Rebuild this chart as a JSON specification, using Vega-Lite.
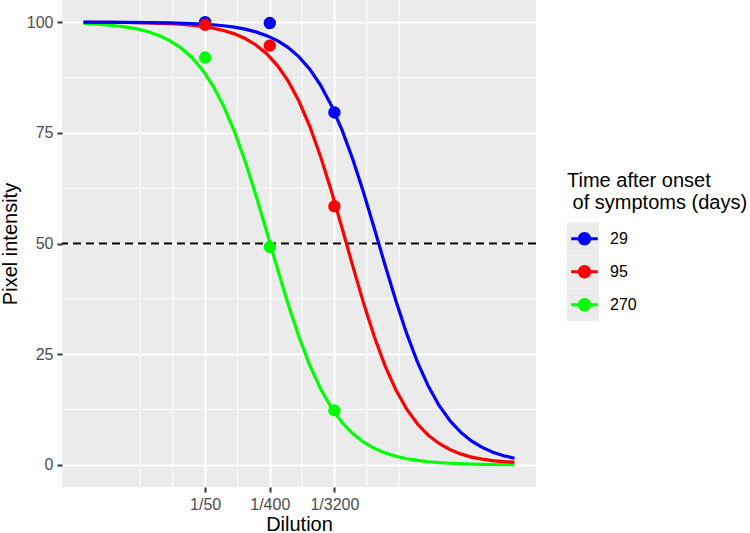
{
  "$schema": "https://vega.github.io/schema/vega-lite/v6.json",
  "width": 474,
  "height": 487,
  "autosize": {"type": "none"},
  "padding": {"left": 62, "top": 0, "right": 214, "bottom": 46},
  "config": {
    "font": "Liberation Sans",
    "view": {"fill": "#EBEBEB", "stroke": null},
    "axis": {
      "domain": false,
      "gridColor": "#FFFFFF",
      "gridWidth": 2,
      "gridOpacity": 1,
      "tickColor": "#333333",
      "tickWidth": 2,
      "tickSize": 5,
      "labelFontSize": 16,
      "labelColor": "#4D4D4D",
      "labelPadding": 4,
      "titleFontSize": 20,
      "titleFontWeight": "normal",
      "titleColor": "#000000"
    }
  },
  "datasets": {
    "vminor": [
      {"dilution": 6.25}, {"dilution": 17.678}, {"dilution": 141.42},
      {"dilution": 1131.37}, {"dilution": 9050.97}, {"dilution": 25600}
    ],
    "hminor": [
      {"intensity": 12.5}, {"intensity": 37.5}, {"intensity": 62.5}, {"intensity": 87.5}
    ],
    "ref": [{"intensity": 50}],
    "obs": [
      {"days": "29", "dilution": 50, "intensity": 100},
      {"days": "29", "dilution": 400, "intensity": 99.8},
      {"days": "29", "dilution": 3200, "intensity": 79.6},
      {"days": "95", "dilution": 50, "intensity": 99.4},
      {"days": "95", "dilution": 400, "intensity": 94.7},
      {"days": "95", "dilution": 3200, "intensity": 58.4},
      {"days": "270", "dilution": 50, "intensity": 92.0},
      {"days": "270", "dilution": 400, "intensity": 49.2},
      {"days": "270", "dilution": 3200, "intensity": 12.3}
    ],
    "fit": [
      {"days": "270", "dilution": 1, "intensity": 99.7},
      {"days": "270", "dilution": 1.414, "intensity": 99.59},
      {"days": "270", "dilution": 2, "intensity": 99.42},
      {"days": "270", "dilution": 2.828, "intensity": 99.19},
      {"days": "270", "dilution": 4, "intensity": 98.88},
      {"days": "270", "dilution": 5.657, "intensity": 98.44},
      {"days": "270", "dilution": 8, "intensity": 97.82},
      {"days": "270", "dilution": 11.314, "intensity": 96.98},
      {"days": "270", "dilution": 16, "intensity": 95.82},
      {"days": "270", "dilution": 22.627, "intensity": 94.25},
      {"days": "270", "dilution": 32, "intensity": 92.13},
      {"days": "270", "dilution": 45.255, "intensity": 89.33},
      {"days": "270", "dilution": 64, "intensity": 85.67},
      {"days": "270", "dilution": 90.51, "intensity": 81.03},
      {"days": "270", "dilution": 128, "intensity": 75.32},
      {"days": "270", "dilution": 181.02, "intensity": 68.56},
      {"days": "270", "dilution": 256, "intensity": 60.91},
      {"days": "270", "dilution": 362.04, "intensity": 52.68},
      {"days": "270", "dilution": 512, "intensity": 44.31},
      {"days": "270", "dilution": 724.08, "intensity": 36.24},
      {"days": "270", "dilution": 1024, "intensity": 28.88},
      {"days": "270", "dilution": 1448.15, "intensity": 22.49},
      {"days": "270", "dilution": 2048, "intensity": 17.17},
      {"days": "270", "dilution": 2896.31, "intensity": 12.9},
      {"days": "270", "dilution": 4096, "intensity": 9.57},
      {"days": "270", "dilution": 5792.62, "intensity": 7.03},
      {"days": "270", "dilution": 8192, "intensity": 5.13},
      {"days": "270", "dilution": 11585.24, "intensity": 3.72},
      {"days": "270", "dilution": 16384, "intensity": 2.68},
      {"days": "270", "dilution": 23170.48, "intensity": 1.93},
      {"days": "270", "dilution": 32768, "intensity": 1.39},
      {"days": "270", "dilution": 46340.95, "intensity": 1.0},
      {"days": "270", "dilution": 65536, "intensity": 0.71},
      {"days": "270", "dilution": 92681.9, "intensity": 0.51},
      {"days": "270", "dilution": 131072, "intensity": 0.37},
      {"days": "270", "dilution": 185363.8, "intensity": 0.26},
      {"days": "270", "dilution": 262144, "intensity": 0.19},
      {"days": "270", "dilution": 370727.6, "intensity": 0.13},
      {"days": "270", "dilution": 524288, "intensity": 0.1},
      {"days": "270", "dilution": 741455.2, "intensity": 0.07},
      {"days": "270", "dilution": 1048576, "intensity": 0.05},

      {"days": "95", "dilution": 1, "intensity": 99.98},
      {"days": "95", "dilution": 2, "intensity": 99.96},
      {"days": "95", "dilution": 4, "intensity": 99.92},
      {"days": "95", "dilution": 8, "intensity": 99.83},
      {"days": "95", "dilution": 16, "intensity": 99.66},
      {"days": "95", "dilution": 22.627, "intensity": 99.52},
      {"days": "95", "dilution": 32, "intensity": 99.32},
      {"days": "95", "dilution": 45.255, "intensity": 99.05},
      {"days": "95", "dilution": 64, "intensity": 98.66},
      {"days": "95", "dilution": 90.51, "intensity": 98.11},
      {"days": "95", "dilution": 128, "intensity": 97.35},
      {"days": "95", "dilution": 181.02, "intensity": 96.3},
      {"days": "95", "dilution": 256, "intensity": 94.84},
      {"days": "95", "dilution": 362.04, "intensity": 92.86},
      {"days": "95", "dilution": 512, "intensity": 90.19},
      {"days": "95", "dilution": 724.08, "intensity": 86.66},
      {"days": "95", "dilution": 1024, "intensity": 82.13},
      {"days": "95", "dilution": 1448.15, "intensity": 76.47},
      {"days": "95", "dilution": 2048, "intensity": 69.67},
      {"days": "95", "dilution": 2896.31, "intensity": 61.9},
      {"days": "95", "dilution": 4096, "intensity": 53.46},
      {"days": "95", "dilution": 5792.62, "intensity": 44.82},
      {"days": "95", "dilution": 8192, "intensity": 36.48},
      {"days": "95", "dilution": 11585.24, "intensity": 28.88},
      {"days": "95", "dilution": 16384, "intensity": 22.31},
      {"days": "95", "dilution": 23170.48, "intensity": 16.88},
      {"days": "95", "dilution": 32768, "intensity": 12.56},
      {"days": "95", "dilution": 46340.95, "intensity": 9.22},
      {"days": "95", "dilution": 65536, "intensity": 6.7},
      {"days": "95", "dilution": 92681.9, "intensity": 4.83},
      {"days": "95", "dilution": 131072, "intensity": 3.47},
      {"days": "95", "dilution": 185363.8, "intensity": 2.48},
      {"days": "95", "dilution": 262144, "intensity": 1.76},
      {"days": "95", "dilution": 370727.6, "intensity": 1.3},
      {"days": "95", "dilution": 524288, "intensity": 0.95},
      {"days": "95", "dilution": 741455.2, "intensity": 0.72},
      {"days": "95", "dilution": 1048576, "intensity": 0.6},

      {"days": "29", "dilution": 1, "intensity": 99.99},
      {"days": "29", "dilution": 4, "intensity": 99.96},
      {"days": "29", "dilution": 16, "intensity": 99.84},
      {"days": "29", "dilution": 32, "intensity": 99.69},
      {"days": "29", "dilution": 45.255, "intensity": 99.57},
      {"days": "29", "dilution": 64, "intensity": 99.41},
      {"days": "29", "dilution": 90.51, "intensity": 99.18},
      {"days": "29", "dilution": 128, "intensity": 98.86},
      {"days": "29", "dilution": 181.02, "intensity": 98.41},
      {"days": "29", "dilution": 256, "intensity": 97.8},
      {"days": "29", "dilution": 362.04, "intensity": 96.95},
      {"days": "29", "dilution": 512, "intensity": 95.8},
      {"days": "29", "dilution": 724.08, "intensity": 94.24},
      {"days": "29", "dilution": 1024, "intensity": 92.15},
      {"days": "29", "dilution": 1448.15, "intensity": 89.37},
      {"days": "29", "dilution": 2048, "intensity": 85.77},
      {"days": "29", "dilution": 2896.31, "intensity": 81.21},
      {"days": "29", "dilution": 4096, "intensity": 75.6},
      {"days": "29", "dilution": 5792.62, "intensity": 68.97},
      {"days": "29", "dilution": 8192, "intensity": 61.44},
      {"days": "29", "dilution": 11585.24, "intensity": 53.33},
      {"days": "29", "dilution": 16384, "intensity": 45.02},
      {"days": "29", "dilution": 23170.48, "intensity": 37.0},
      {"days": "29", "dilution": 32768, "intensity": 29.63},
      {"days": "29", "dilution": 46340.95, "intensity": 23.19},
      {"days": "29", "dilution": 65536, "intensity": 17.79},
      {"days": "29", "dilution": 92681.9, "intensity": 13.43},
      {"days": "29", "dilution": 131072, "intensity": 10.01},
      {"days": "29", "dilution": 185363.8, "intensity": 7.39},
      {"days": "29", "dilution": 262144, "intensity": 5.41},
      {"days": "29", "dilution": 370727.6, "intensity": 3.94},
      {"days": "29", "dilution": 524288, "intensity": 2.86},
      {"days": "29", "dilution": 741455.2, "intensity": 2.06},
      {"days": "29", "dilution": 1048576, "intensity": 1.49}
    ]
  },
  "layer": [
    {
      "data": {"name": "vminor"},
      "mark": {"type": "rule", "color": "#FFFFFF", "strokeWidth": 1},
      "encoding": {
        "x": {
          "field": "dilution", "type": "quantitative",
          "scale": {"type": "log", "base": 2, "domain": [0.5, 2097152], "nice": false},
          "axis": {"title": "Dilution", "values": [50, 400, 3200], "labelExpr": "'1/' + datum.value", "labelFlush": false, "titlePadding": 2}
        }
      }
    },
    {
      "data": {"name": "hminor"},
      "mark": {"type": "rule", "color": "#FFFFFF", "strokeWidth": 1},
      "encoding": {
        "y": {
          "field": "intensity", "type": "quantitative",
          "scale": {"domain": [-5, 105], "nice": false, "zero": false},
          "axis": {"title": "Pixel intensity", "values": [0, 25, 50, 75, 100], "titlePadding": 6}
        }
      }
    },
    {
      "data": {"name": "ref"},
      "mark": {"type": "rule", "color": "#000000", "strokeWidth": 2, "strokeDash": [8, 5]},
      "encoding": {
        "y": {"field": "intensity", "type": "quantitative"}
      }
    },
    {
      "data": {"name": "fit"},
      "mark": {"type": "line", "strokeWidth": 3.2},
      "encoding": {
        "x": {"field": "dilution", "type": "quantitative"},
        "y": {"field": "intensity", "type": "quantitative"},
        "color": {
          "field": "days", "type": "nominal",
          "scale": {"domain": ["29", "95", "270"], "range": ["#0000FF", "#FF0000", "#00FF00"]},
          "legend": {
            "title": ["Time after onset", "\u200b\u00a0of symptoms (days)"],
            "orient": "none",
            "legendX": 505,
            "legendY": 171,
            "padding": 0,
            "titleFontSize": 20,
            "titleFontWeight": "normal",
            "titleColor": "#000000",
            "titleLineHeight": 22,
            "titlePadding": 9.5,
            "titleAnchor": "start",
            "titleLimit": 400,
            "labelFontSize": 16,
            "labelColor": "#000000",
            "labelOffset": 8,
            "symbolType": "M-0.83,0H0.83M0.33,0A0.33,0.33,0,1,1,-0.33,0A0.33,0.33,0,1,1,0.33,0Z",
            "symbolSize": 1024,
            "symbolStrokeWidth": 3,
            "rowPadding": 0,
            "clipHeight": 32.5,
            "encode": {
              "symbols": {"update": {"fill": {"scale": "color", "field": "value"}, "stroke": {"scale": "color", "field": "value"}, "opacity": {"value": 1}}},
              "entries": {"update": {"fill": {"value": {"gradient": "linear", "stops": [
                {"offset": 0, "color": "#EBEBEB"},
                {"offset": 0.464, "color": "#EBEBEB"},
                {"offset": 0.464, "color": "#FFFFFF"},
                {"offset": 1, "color": "#FFFFFF"}
              ]}}}}
            }
          }
        },
        "detail": {"field": "days"}
      }
    },
    {
      "data": {"name": "obs"},
      "mark": {"type": "circle", "size": 154, "opacity": 1},
      "encoding": {
        "x": {"field": "dilution", "type": "quantitative"},
        "y": {"field": "intensity", "type": "quantitative"},
        "color": {"field": "days", "type": "nominal"}
      }
    }
  ]
}
